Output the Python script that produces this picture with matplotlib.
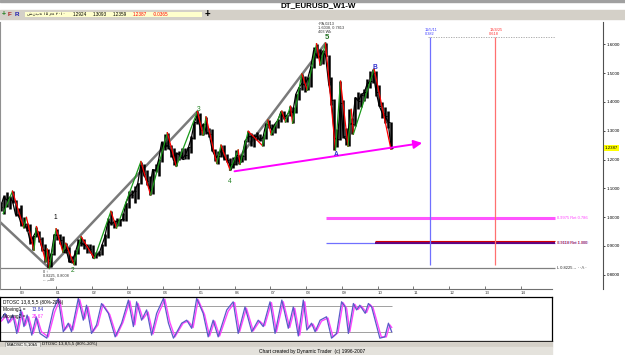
import matplotlib
matplotlib.use("Agg")
import matplotlib.pyplot as plt
from matplotlib.patches import Rectangle
import matplotlib.transforms as mtransforms

plt.rcParams['font.family'] = ['Liberation Sans', 'DejaVu Sans']

# ---------------- data ----------------
bar_months = [
    "1999-05", "1999-06", "1999-07", "1999-08", "1999-09", "1999-10", "1999-11", "1999-12",
    "2000-01", "2000-02", "2000-03", "2000-04", "2000-05", "2000-06", "2000-07", "2000-08", "2000-09", "2000-10", "2000-11", "2000-12",
    "2001-01", "2001-02", "2001-03", "2001-04", "2001-05", "2001-06", "2001-07", "2001-08", "2001-09", "2001-10", "2001-11", "2001-12",
    "2002-01", "2002-02", "2002-03", "2002-04", "2002-05", "2002-06", "2002-07", "2002-08", "2002-09", "2002-10", "2002-11", "2002-12",
    "2003-01", "2003-02", "2003-03", "2003-04", "2003-05", "2003-06", "2003-07", "2003-08", "2003-09", "2003-10", "2003-11", "2003-12",
    "2004-01", "2004-02", "2004-03", "2004-04", "2004-05", "2004-06", "2004-07", "2004-08", "2004-09", "2004-10", "2004-11", "2004-12",
    "2005-01", "2005-02", "2005-03", "2005-04", "2005-05", "2005-06", "2005-07", "2005-08", "2005-09", "2005-10", "2005-11", "2005-12",
    "2006-01", "2006-02", "2006-03", "2006-04", "2006-05", "2006-06", "2006-07", "2006-08", "2006-09", "2006-10", "2006-11", "2006-12",
    "2007-01", "2007-02", "2007-03", "2007-04", "2007-05", "2007-06", "2007-07", "2007-08", "2007-09", "2007-10", "2007-11", "2007-12",
    "2008-01", "2008-02", "2008-03", "2008-04", "2008-05", "2008-06", "2008-07", "2008-08", "2008-09", "2008-10", "2008-11", "2008-12",
    "2009-01", "2009-02", "2009-03", "2009-04", "2009-05", "2009-06", "2009-07", "2009-08", "2009-09", "2009-10", "2009-11", "2009-12",
    "2010-01", "2010-02", "2010-03", "2010-04", "2010-05",
]
bar_high = [
    1.0720, 1.0530, 1.0770, 1.0860, 1.0720, 1.0900, 1.0580, 1.0320,
    1.0410, 0.9990, 0.9810, 0.9750, 0.9350, 0.9670, 0.9510, 0.9310, 0.9070, 0.8880, 0.8760, 0.9420,
    0.9595, 0.9400, 0.9350, 0.9090, 0.8950, 0.8660, 0.8860, 0.9230, 0.9320, 0.9230, 0.9060, 0.9050,
    0.9030, 0.8780, 0.8840, 0.9060, 0.9400, 0.9960, 1.0200, 0.9900, 0.9970, 0.9920, 1.0140, 1.0500,
    1.0890, 1.0930, 1.1080, 1.1200, 1.1930, 1.1860, 1.1640, 1.1420, 1.1660, 1.1860, 1.2010, 1.2650,
    1.2900, 1.2930, 1.2500, 1.2390, 1.2270, 1.2290, 1.2400, 1.2400, 1.2440, 1.2810, 1.3300, 1.3667,
    1.3620, 1.3250, 1.3480, 1.3100, 1.3050, 1.2370, 1.2300, 1.2500, 1.2520, 1.2200, 1.2050, 1.2100,
    1.2330, 1.2150, 1.2200, 1.2660, 1.2980, 1.2910, 1.2880, 1.2940, 1.2880, 1.2800, 1.3250, 1.3370,
    1.3230, 1.3240, 1.3390, 1.3680, 1.3680, 1.3550, 1.3850, 1.3820, 1.4280, 1.4520, 1.4970, 1.4900,
    1.4880, 1.5240, 1.5910, 1.6020, 1.5840, 1.5800, 1.6038, 1.5630, 1.4860, 1.4100, 1.3050, 1.4720,
    1.4060, 1.3100, 1.3740, 1.3440, 1.4170, 1.4340, 1.4310, 1.4450, 1.4800, 1.5060, 1.5144, 1.5060,
    1.4580, 1.3980, 1.3820, 1.3690, 1.3310,
]
bar_low = [
    1.0420, 1.0220, 1.0120, 1.0350, 1.0280, 1.0480, 1.0050, 1.0010,
    0.9700, 0.9630, 0.9510, 0.9050, 0.8850, 0.9300, 0.9120, 0.8840, 0.8450, 0.8225, 0.8280, 0.8700,
    0.9220, 0.9050, 0.8790, 0.8750, 0.8440, 0.8400, 0.8352, 0.8730, 0.8990, 0.8890, 0.8760, 0.8740,
    0.8580, 0.8565, 0.8650, 0.8700, 0.9000, 0.9270, 0.9740, 0.9620, 0.9690, 0.9700, 0.9860, 0.9870,
    1.0330, 1.0680, 1.0500, 1.0640, 1.1150, 1.1420, 1.1130, 1.0770, 1.0790, 1.1570, 1.1410, 1.1930,
    1.2340, 1.2370, 1.2080, 1.1810, 1.1760, 1.1990, 1.2010, 1.2030, 1.2010, 1.2240, 1.2700, 1.3220,
    1.2860, 1.2840, 1.2880, 1.2790, 1.2300, 1.1960, 1.1860, 1.2090, 1.2000, 1.1910, 1.1640, 1.1710,
    1.1820, 1.1830, 1.1900, 1.2000, 1.2620, 1.2480, 1.2450, 1.2680, 1.2630, 1.2480, 1.2720, 1.3080,
    1.2860, 1.2930, 1.3080, 1.3310, 1.3410, 1.3300, 1.3500, 1.3260, 1.3600, 1.4080, 1.4410, 1.4350,
    1.4400, 1.4520, 1.5160, 1.5510, 1.5280, 1.5300, 1.5580, 1.4580, 1.3880, 1.2330, 1.2420, 1.2660,
    1.2750, 1.2510, 1.2457, 1.2880, 1.3180, 1.3750, 1.3820, 1.4040, 1.4130, 1.4480, 1.4640, 1.4220,
    1.3860, 1.3440, 1.3270, 1.3110, 1.2359,
]
bar_close = [
    1.0430, 1.0350, 1.0690, 1.0600, 1.0680, 1.0550, 1.0090, 1.0070,
    0.9710, 0.9760, 0.9560, 0.9120, 0.9330, 0.9520, 0.9230, 0.8870, 0.8830, 0.8490, 0.8730, 0.9390,
    0.9370, 0.9220, 0.8790, 0.8870, 0.8450, 0.8480, 0.8750, 0.9110, 0.9110, 0.9030, 0.8990, 0.8900,
    0.8590, 0.8700, 0.8720, 0.9020, 0.9330, 0.9860, 0.9780, 0.9810, 0.9860, 0.9890, 0.9930, 1.0490,
    1.0730, 1.0780, 1.0910, 1.1170, 1.1800, 1.1500, 1.1250, 1.0990, 1.1650, 1.1620, 1.1990, 1.2590,
    1.2460, 1.2480, 1.2310, 1.1970, 1.2210, 1.2170, 1.2020, 1.2170, 1.2420, 1.2760, 1.3290, 1.3560,
    1.3040, 1.3240, 1.2960, 1.2870, 1.2320, 1.2100, 1.2120, 1.2340, 1.2030, 1.1990, 1.1790, 1.1840,
    1.2150, 1.1920, 1.2110, 1.2630, 1.2800, 1.2790, 1.2770, 1.2810, 1.2680, 1.2760, 1.3240, 1.3200,
    1.3030, 1.3230, 1.3360, 1.3650, 1.3450, 1.3530, 1.3690, 1.3630, 1.4260, 1.4480, 1.4630, 1.4590,
    1.4810, 1.5180, 1.5780, 1.5610, 1.5550, 1.5760, 1.5610, 1.4680, 1.4080, 1.2730, 1.2700, 1.3970,
    1.2810, 1.2670, 1.3250, 1.3240, 1.4150, 1.4030, 1.4250, 1.4330, 1.4640, 1.4720, 1.5000, 1.4330,
    1.3870, 1.3620, 1.3510, 1.3300, 1.2387,
]

# swing zig-zag (decimal year, price)
swing_t = [1999.53, 1999.79, 2000.10, 2000.18, 2000.39, 2000.46, 2000.72, 2000.76, 2000.82,
           2001.01, 2001.20, 2001.28, 2001.51, 2001.71, 2002.08, 2002.54, 2002.70, 2003.38,
           2003.65, 2004.12, 2004.37, 2004.96, 2005.12, 2005.20, 2005.50, 2005.62, 2005.87,
           2006.10, 2006.15, 2006.38, 2006.78, 2006.93, 2007.02, 2007.32, 2007.42, 2007.56,
           2007.62, 2007.88, 2008.03, 2008.29, 2008.39, 2008.54, 2008.82, 2008.96, 2009.17,
           2009.26, 2009.32, 2009.90, 2010.37]
swing_p = [1.0120, 1.0900, 0.9640, 0.9990, 0.8850, 0.9670, 0.8450, 0.8890, 0.8225,
           0.9595, 0.8790, 0.9090, 0.8352, 0.9320, 0.8565, 1.0200, 0.9620, 1.1930,
           1.0770, 1.2930, 1.1760, 1.3667, 1.2840, 1.3480, 1.1860, 1.2500, 1.1640,
           1.2330, 1.1830, 1.2980, 1.2480, 1.3370, 1.2860, 1.3680, 1.3300, 1.3850,
           1.3260, 1.4970, 1.4400, 1.6020, 1.5280, 1.6038, 1.2330, 1.4720, 1.2457,
           1.3740, 1.2880, 1.5144, 1.2359]

# gray wave channel lines
gray1_t = [1999.44, 2000.82, 2004.96]
gray1_p = [0.983, 0.8225, 1.3667]
gray2_t = [2005.87, 2008.54]
gray2_p = [1.1640, 1.6038]

# pink trend arrow
trend_t = [2005.92, 2011.32]
trend_p = [1.1576, 1.2587]

# wave labels
wave_text = ["1", "2", "3", "4", "5", "A", "B"]
wave_t = [2000.98, 2001.48, 2004.98, 2005.87, 2008.58, 2008.83, 2009.92]
wave_p = [1.0003, 0.8163, 1.375, 1.125, 1.625, 1.218, 1.519]
wave_col = ["#000000", "#208020", "#208020", "#208020", "#207020", "#3030d0", "#3030d0"]

# price levels
level_ret786 = 0.9975
level_ret1000 = 0.9118
level_low = 0.8225
level_start_t = 2008.55
level_alt_t = 2009.93
level_end_t = 2014.96

# time cycle lines
cycle_blue_t = 2011.47
cycle_red_t = 2013.27
cycle_top_p = 1.6264
cycle_bot_p = 0.834

# oscillator (DTOSC) turning points
osc1_t = [1999.44, 1999.58, 1999.67, 1999.80, 1999.91, 2000.02, 2000.11, 2000.20, 2000.33, 2000.45,
          2000.56, 2000.75, 2000.93, 2001.07, 2001.21, 2001.35, 2001.44, 2001.63, 2001.77, 2001.86,
          2002.00, 2002.14, 2002.28, 2002.47, 2002.66, 2002.84, 2003.03, 2003.17, 2003.26, 2003.40,
          2003.54, 2003.68, 2003.82, 2004.01, 2004.15, 2004.29, 2004.52, 2004.66, 2004.80, 2004.94,
          2005.12, 2005.26, 2005.40, 2005.54, 2005.78, 2005.96, 2006.10, 2006.29, 2006.48, 2006.66,
          2006.80, 2006.99, 2007.13, 2007.32, 2007.50, 2007.64, 2007.78, 2007.92, 2008.02, 2008.15,
          2008.25, 2008.39, 2008.57, 2008.71, 2008.85, 2008.99, 2009.09, 2009.18, 2009.32, 2009.41,
          2009.50, 2009.65, 2009.74, 2009.83, 2010.06, 2010.20, 2010.30, 2010.39]
osc1_v = [47, 63, 40, 59, 16, 71, 32, 59, 12, 55,
          16, 5, 71, 98, 20, 40, 20, 98, 47, 82,
          16, 36, 86, 63, 8, 40, 94, 32, 90, 47,
          71, 12, 63, 98, 40, 5, 40, 47, 28, 98,
          63, 8, 47, 8, 71, 90, 16, 78, 20, 47,
          32, 90, 16, 94, 28, 78, 10, 94, 24, 40,
          20, 47, 55, 5, 16, 90, 78, 16, 86, 71,
          82, 63, 86, 78, 5, 8, 40, 20]
osc2_t = [1999.48, 1999.62, 1999.71, 1999.84, 1999.95, 2000.06, 2000.15, 2000.24, 2000.37, 2000.49,
          2000.60, 2000.79, 2000.97, 2001.11, 2001.25, 2001.39, 2001.48, 2001.67, 2001.81, 2001.90,
          2002.04, 2002.18, 2002.32, 2002.51, 2002.70, 2002.88, 2003.07, 2003.21, 2003.30, 2003.44,
          2003.58, 2003.72, 2003.86, 2004.05, 2004.19, 2004.33, 2004.56, 2004.70, 2004.84, 2004.98,
          2005.16, 2005.30, 2005.44, 2005.58, 2005.82, 2006.00, 2006.14, 2006.33, 2006.52, 2006.70,
          2006.84, 2007.03, 2007.17, 2007.36, 2007.54, 2007.68, 2007.82, 2007.96, 2008.06, 2008.19,
          2008.29, 2008.43, 2008.61, 2008.75, 2008.89, 2009.03, 2009.13, 2009.22, 2009.36, 2009.45,
          2009.54, 2009.69, 2009.78, 2009.87, 2010.10, 2010.24, 2010.34, 2010.39]
osc2_v = [45, 58, 42, 55, 20, 66, 35, 55, 16, 50,
          20, 8, 66, 95, 24, 38, 24, 95, 50, 78,
          20, 36, 84, 60, 10, 42, 92, 36, 86, 50,
          66, 15, 60, 96, 42, 8, 40, 45, 30, 95,
          60, 10, 45, 10, 68, 88, 20, 75, 22, 45,
          34, 88, 20, 90, 30, 75, 12, 90, 28, 38,
          22, 45, 52, 8, 18, 88, 75, 20, 84, 72,
          80, 65, 84, 76, 8, 8, 36, 30]
osc_levels = [80, 20]

years = list(range(2000, 2015))
year_labels = ["%02d" % (y % 100) for y in years]
price_ticks = [0.8, 0.9, 1.0, 1.1, 1.2, 1.3, 1.4, 1.5, 1.6]
last_price = 1.2387
info_values = ["1.2924", "1.3093", "1.2359", "1.2387", "-0.0365"]

# ---------------- figure ----------------
W, H = 625, 355
fig = plt.figure(figsize=(W / 100, H / 100), dpi=100)
fig.patch.set_facecolor("white")


def fx(x):
    return x / W


def fy(y):
    return 1 - y / H


def frect(x0, y0, x1, y1, **kw):
    fig.patches.append(Rectangle((fx(x0), fy(y1)), fx(x1) - fx(x0), fy(y0) - fy(y1),
                                 transform=fig.transFigure, **kw))


# title row and info bar
frect(0, 0, W, 1.5, color="#a0a0a0")
fig.text(fx(318), fy(5.5), "DT_EURUSD_W1-W", fontsize=5.8, fontweight="bold", ha="center", va="center")
frect(0, 10, W, 18.5, color="#d4d0c8")
frect(25, 11.6, 202, 17.0, facecolor="#ffffcc", edgecolor="none")
fig.text(fx(3.3), fy(14.3), "+", fontsize=5, color="#208020", fontweight="bold", ha="center", va="center")
fig.text(fx(10), fy(14.3), "F", fontsize=4.5, color="#b02020", fontweight="bold", ha="center", va="center")
fig.text(fx(16.7), fy(14.3), "R", fontsize=4.5, color="#2020b0", fontweight="bold", ha="center", va="center")
fig.text(fx(27), fy(14.3), "شنبه ۱۵ مه ۲۰۱۰", fontsize=3.2, ha="left", va="center",
         family=["DejaVu Sans"])
for i, s in enumerate(info_values):
    fig.text(fx(72.7 + 20 * i), fy(14.3), s, fontsize=3.3, ha="left", va="center",
             color="#ff0000" if i >= 3 else "black")
fig.text(fx(207), fy(14.3), "+", fontsize=7, fontweight="bold", ha="center", va="center")

# main price axes
x0_t = 2000 - 20 / 35.77
x1_t = 2000 + (603 - 20) / 35.77
ax = fig.add_axes([0, fy(289), fx(603), fy(22) - fy(289)])
ax.set_xlim(x0_t, x1_t)
ax.set_ylim(1.6 - (289 - 44.3) / 288, 1.6 + (44.3 - 22) / 288)
for s in ["top", "bottom"]:
    ax.spines[s].set_visible(False)
ax.spines["left"].set_color("#909090")
ax.spines["right"].set_color("#505050")
ax.spines["right"].set_linewidth(0.8)
ax.plot([0, 552 / 603], [0, 0], transform=ax.transAxes, color="#707070", lw=0.8, clip_on=False)

ax.yaxis.tick_right()
ax.set_yticks(price_ticks)
ax.set_yticklabels(["%.4f" % v for v in price_ticks], fontsize=3.2)
ax.tick_params(axis="y", length=1.5, pad=1.2, width=0.5)
ax.set_xticks(years)
ax.set_xticklabels(year_labels, fontsize=3.2, ha="left")
ax.tick_params(axis="x", direction="in", length=2, pad=1.2, width=0.5, colors="#404040")

ax.text(1.003, last_price, "%.4f" % last_price, transform=ax.get_yaxis_transform(),
        fontsize=3.2, va="center", ha="left",
        bbox=dict(boxstyle="square,pad=0.25", fc="#ffff00", ec="none"))

# bars
bar_t = [int(m[:4]) + (int(m[5:]) - 0.5) / 12 for m in bar_months]
ax.plot(bar_t, bar_close, color="black", lw=0.9)
ax.vlines(bar_t, bar_low, bar_high, colors="black", linewidth=1.8)
ax.hlines(bar_close, bar_t, [t + 0.04 for t in bar_t], colors="black", linewidth=0.8)

# gray wave lines
ax.plot(gray1_t, gray1_p, color="#7a7a7a", lw=1.8, solid_capstyle="round", zorder=1)
ax.plot(gray2_t, gray2_p, color="#7a7a7a", lw=1.8, solid_capstyle="round", zorder=1)

# swing overlay
for i in range(len(swing_t) - 1):
    c = "#1a9a1a" if swing_p[i + 1] > swing_p[i] else "#ff0000"
    ax.plot(swing_t[i:i + 2], swing_p[i:i + 2], color=c, lw=0.9, zorder=3)

# pink trend arrow
ax.annotate("", xy=(trend_t[1], trend_p[1]), xytext=(trend_t[0], trend_p[0]),
            arrowprops=dict(arrowstyle="-|>,head_length=0.5,head_width=0.25", color="#ff00ff", lw=1.4))

# wave labels
for s, t, p, c in zip(wave_text, wave_t, wave_p, wave_col):
    ax.text(t, p, s, color=c, fontsize=4.8 if s != "5" else 5.5, ha="center", va="center",
            fontweight="bold" if s in "AB5" else "normal")

# peak / trough annotations
ax.text(2008.33, 1.6774, "~PA,0213\n1.6038, 0.7813\n403 Wk", fontsize=2.8, ha="left", va="top",
        linespacing=1.0, color="#303030")
ax.text(2000.64, 0.8225 - 0.005, "0 \u2191\n0.8225, 0.8008\n-- ,ــ00", fontsize=2.8, ha="left", va="top",
        linespacing=1.05, color="#303030")

# levels
ax.hlines(level_ret786, level_start_t, level_end_t, colors="#ff55ff", linewidth=2.2)
ax.hlines(level_ret1000, level_start_t, level_end_t, colors="#7070ff", linewidth=0.9)
ax.hlines(level_ret1000, level_alt_t, level_end_t, colors="#600080", linewidth=1.4)
tr_up = mtransforms.offset_copy(ax.transData, fig=fig, y=1.0, units="points")
ax.hlines(level_ret1000, level_alt_t, level_end_t, colors="#d00000", linewidth=0.8, transform=tr_up)
ax.hlines(level_low, x0_t, level_end_t, colors="#808080", linewidth=0.9)
ax.text(level_end_t + 0.04, level_ret786, "0.9975 Ret 0.786", fontsize=2.9, color="#ff40ff", va="center")
ax.text(level_end_t + 0.04, level_ret1000, "0.9118 Ret 1.000", fontsize=2.9, color="#c00000", va="center")
ax.text(level_end_t + 0.07, level_ret1000, "0.9118 Ret 1.000", fontsize=2.9, color="#4040ff", va="center",
        alpha=0.6)
ax.text(level_end_t + 0.04, level_low, "L 0.8225 -- ٠٠/١٠", fontsize=2.9, color="#202020", va="center",
        family=["Liberation Sans", "DejaVu Sans"])

# time cycles
ax.vlines(cycle_blue_t, cycle_bot_p, cycle_top_p, colors="#7070ff", linewidth=0.9)
ax.vlines(cycle_red_t, cycle_bot_p, cycle_top_p, colors="#ff7070", linewidth=0.9)
ax.hlines(cycle_top_p, cycle_blue_t - 0.05, level_end_t, colors="#a0a0a0", linewidth=0.6,
          linestyles=(0, (1.5, 1.5)))
ax.text(cycle_blue_t - 0.15, cycle_top_p + 0.004, "11/5/11\n0.382", fontsize=2.8, color="#4040ff",
        ha="left", va="bottom", linespacing=0.9)
ax.text(cycle_red_t - 0.15, cycle_top_p + 0.004, "13/4/25\n0.618", fontsize=2.8, color="#ff3030",
        ha="left", va="bottom", linespacing=0.9)

# oscillator panel
ax2 = fig.add_axes([0, fy(341), fx(552), fy(297) - fy(341)])
ax2.set_xlim(x0_t, 2000 + (552 - 20) / 35.77)
ax2.set_ylim((340.3 - 341) / 0.428, (340.3 - 297) / 0.428)
ax2.set_xticks([])
ax2.set_yticks([])
for s in ax2.spines.values():
    s.set_color("black")
    s.set_linewidth(0.9)
ax2.hlines(osc_levels, x0_t, osc1_t[-1], colors="#a0a0a0", linewidth=0.7)
ax2.plot(osc2_t, osc2_v, color="#ff44ff", lw=1.0)
ax2.plot(osc1_t, osc1_v, color="#5a5ac8", lw=0.9)
ax2.text(0.006, 0.93, "DTOSC 13,8,5,5 (80%-20%)", transform=ax2.transAxes, fontsize=3.4, va="top")
ax2.text(0.006, 0.77, "Moving1 = ", transform=ax2.transAxes, fontsize=3.4, va="top")
ax2.text(0.058, 0.77, "13.84", transform=ax2.transAxes, fontsize=3.4, va="top", color="#3030c0")
ax2.text(0.006, 0.61, "Moving2 = ", transform=ax2.transAxes, fontsize=3.4, va="top")
ax2.text(0.058, 0.61, "28.67", transform=ax2.transAxes, fontsize=3.4, va="top", color="#ff30ff")

# tabs and footer
frect(0, 341.5, 552, 347.3, color="#d4d0c8")
frect(5, 341.8, 40, 347.0, facecolor="#ecebe6", edgecolor="#808080", linewidth=0.4)
fig.text(fx(7), fy(344.5), "MAOSC 5,10k5", fontsize=3.2, va="center", ha="left")
fig.text(fx(42), fy(344.5), "DTOSC 13,8,5,5 (80%-20%)", fontsize=3.2, va="center", ha="left")
frect(0, 347.3, 552, 355, color="#e4e2dc")
fig.text(fx(312), fy(351), "Chart created by Dynamic Trader  (c) 1996-2007", fontsize=3.5,
         va="center", ha="center")

fig.savefig("out.png", dpi=100)
